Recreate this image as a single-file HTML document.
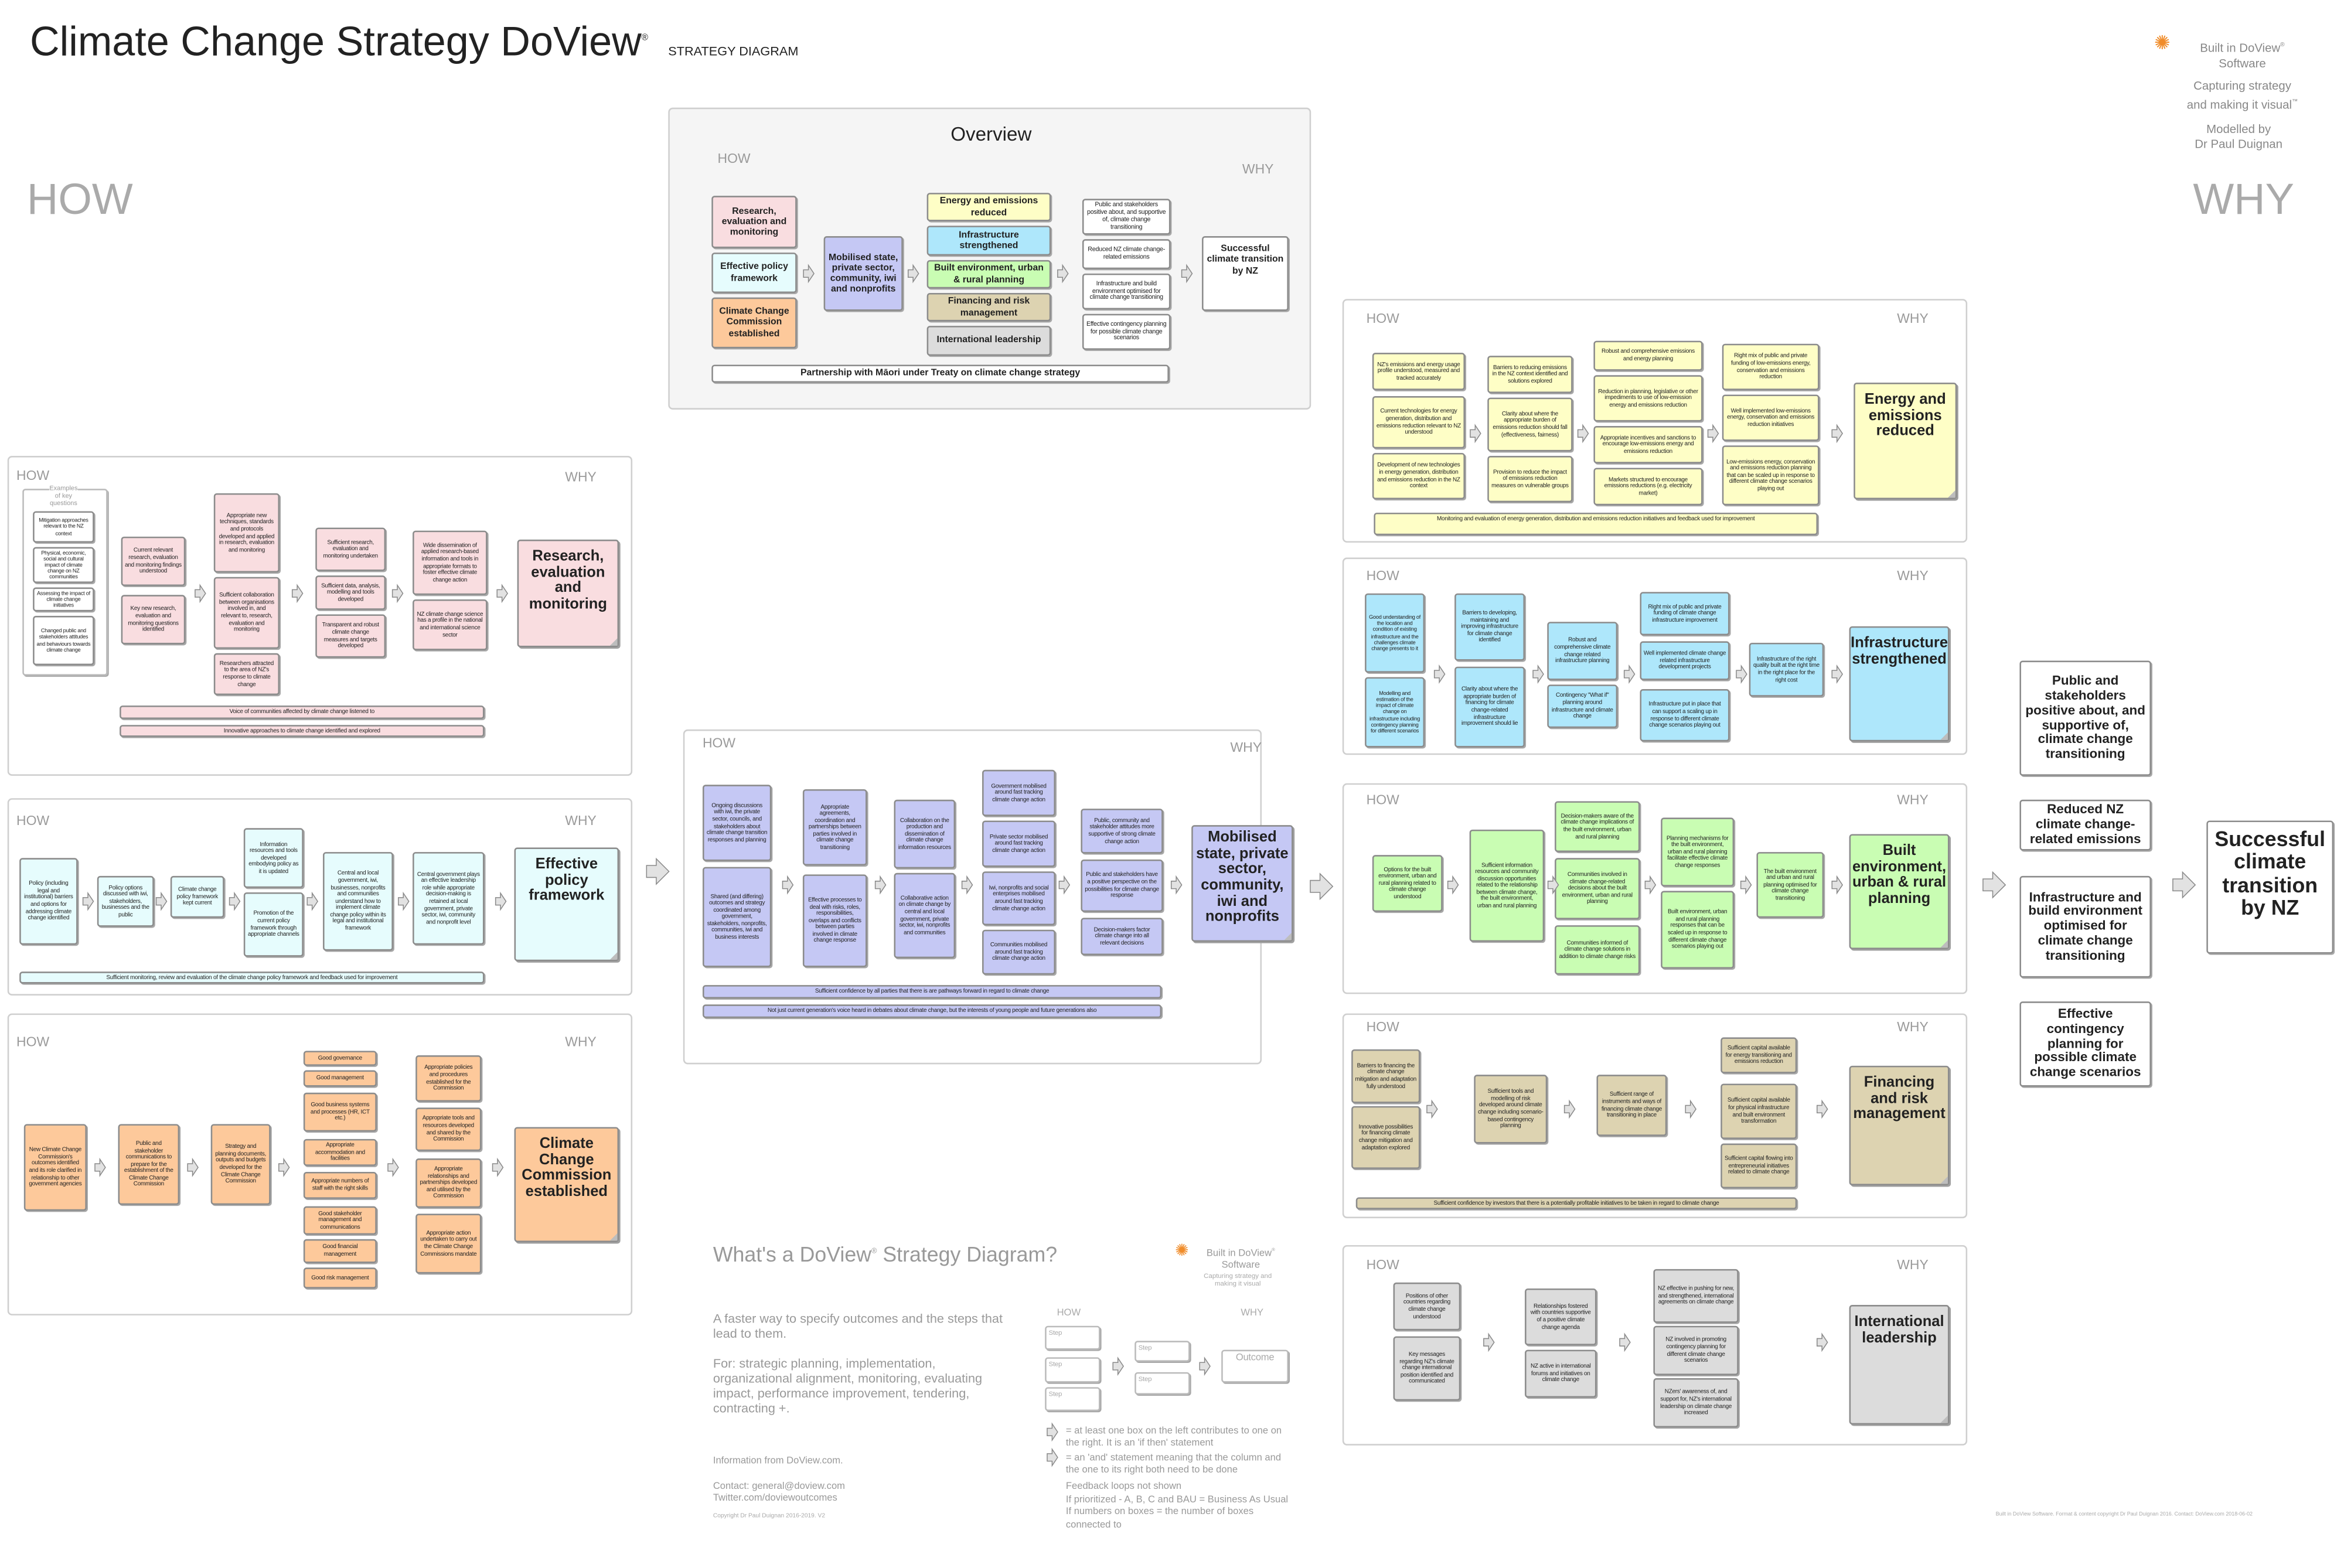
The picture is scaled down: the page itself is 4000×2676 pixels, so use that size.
<!DOCTYPE html>
<html><head><meta charset="utf-8">
<style>
html,body{margin:0;padding:0;background:#fff;width:4000px;height:2675px;overflow:hidden}
#c{position:absolute;left:0;top:0;width:1568px;height:1049px;transform:scale(2.55102);transform-origin:0 0;font-family:"Liberation Sans Narrow","Liberation Sans",sans-serif;color:#222}
.p{position:absolute;box-sizing:border-box;border:1px solid #cfcfcf;border-radius:3px;background:#fff}
.b{position:absolute;box-sizing:border-box;border:0.6px solid #8c8c8c;border-radius:2px;box-shadow:0.8px 0.8px 0 #a8a8a8;display:flex;align-items:center;justify-content:center;text-align:center;font-size:3.9px;letter-spacing:-0.1px;line-height:1.17;padding:1px 1.5px;overflow:hidden}
.t{position:absolute;box-sizing:border-box;border:0.6px solid #8c8c8c;border-radius:2px;box-shadow:1px 1px 0 #a0a0a0;text-align:center;font-weight:bold;font-size:10px;line-height:1.07;padding-top:6px;font-family:"Liberation Sans",sans-serif}
.t:after{content:"";position:absolute;right:0;bottom:0;border-style:solid;border-width:0 0 5px 5px;border-color:transparent transparent #bdbdbd transparent}
.l{position:absolute;font-family:"Liberation Sans",sans-serif;color:#9a9a9a;font-size:9px}
.a{position:absolute;overflow:visible}
.a path{fill:#e2e2e2;stroke:#8a8a8a;stroke-width:0.6}
.pk{background:#f9dde0}.cy{background:#e6fcfd}.or{background:#fdc99b}.bl{background:#c5c8f4}.ye{background:#fefec6}.sk{background:#aee7fb}.gr{background:#c9fdb3}.tn{background:#ddd3b1}.gy{background:#dcdcdc}.wh{background:#fff}
.s{font-family:"Liberation Sans",sans-serif;position:absolute;color:#888}
.ov{font-size:6.2px!important;font-weight:bold;letter-spacing:0!important}
.ow{font-size:4.2px!important}
.rc{font-size:8.8px!important;font-weight:bold;font-family:'Liberation Sans',sans-serif;line-height:1.1!important;letter-spacing:0!important}
</style></head><body><div id="c">

<div style="position:absolute;left:20px;top:12px;font-family:'Liberation Sans',sans-serif;font-size:27.5px;color:#222">Climate Change Strategy DoView<sup style="font-size:6px">®</sup></div>
<div style="position:absolute;left:447px;top:29px;font-family:'Liberation Sans',sans-serif;font-size:8.5px;color:#222">STRATEGY DIAGRAM</div>
<div style="position:absolute;left:18px;top:118px;font-family:'Liberation Sans',sans-serif;font-size:29px;color:#aaa">HOW</div>
<div style="position:absolute;left:1467px;top:118px;font-family:'Liberation Sans',sans-serif;font-size:29px;color:#aaa">WHY</div>
<div style="position:absolute;left:1441px;top:21px;color:#f08c2a;font-size:13px">✺</div>
<div class="s" style="left:1455px;top:25px;width:90px;text-align:center;font-size:8px;line-height:10px">Built in DoView<sup style="font-size:4px">®</sup><br>Software</div>
<div class="s" style="left:1450px;top:53px;width:100px;text-align:center;font-size:8px;line-height:10px">Capturing strategy<br>and making it visual<sup style="font-size:4px">™</sup></div>
<div class="s" style="left:1450px;top:82px;width:95px;text-align:center;font-size:8px;line-height:10px">Modelled by<br>Dr Paul Duignan</div>

<!-- Overview -->
<div class="p" style="left:447px;top:72px;width:430px;height:202px;background:#f5f5f5"></div>
<div style="position:absolute;left:447px;top:82px;width:432px;text-align:center;font-family:'Liberation Sans',sans-serif;font-size:13px">Overview</div>
<div class="l" style="left:480px;top:101px">HOW</div>
<div class="l" style="left:831px;top:108px">WHY</div>
<div class="b pk ov" style="left:476px;top:131px;width:57px;height:35px">Research, evaluation and monitoring</div>
<div class="b cy ov" style="left:476px;top:169px;width:57px;height:27px">Effective policy framework</div>
<div class="b or ov" style="left:476px;top:199px;width:57px;height:34px">Climate Change Commission established</div>
<div class="b bl ov" style="left:551px;top:158px;width:53px;height:50px">Mobilised state, private sector, community, iwi and nonprofits</div>
<div class="b ye ov" style="left:620px;top:129px;width:83px;height:19px">Energy and emissions reduced</div>
<div class="b sk ov" style="left:620px;top:151px;width:83px;height:20px">Infrastructure strengthened</div>
<div class="b gr ov" style="left:620px;top:174px;width:83px;height:19px">Built environment, urban &amp; rural planning</div>
<div class="b tn ov" style="left:620px;top:196px;width:83px;height:19px">Financing and risk management</div>
<div class="b gy ov" style="left:620px;top:218px;width:83px;height:20px">International leadership</div>
<div class="b wh ow" style="left:724px;top:133px;width:59px;height:24px">Public and stakeholders positive about, and supportive of, climate change transitioning</div>
<div class="b wh ow" style="left:724px;top:160px;width:59px;height:20px">Reduced NZ climate change-related emissions</div>
<div class="b wh ow" style="left:724px;top:183px;width:59px;height:24px">Infrastructure and build environment optimised for climate change transitioning</div>
<div class="b wh ow" style="left:724px;top:210px;width:59px;height:24px">Effective contingency planning for possible climate change scenarios</div>
<div class="b wh ov" style="left:804px;top:158px;width:58px;height:50px;align-items:flex-start;padding-top:4px">Successful climate transition by NZ</div>
<div class="b wh ov" style="left:476px;top:244px;width:306px;height:12px">Partnership with Māori under Treaty on climate change strategy</div>

<!-- Research panel -->
<div class="p" style="left:5px;top:305px;width:418px;height:214px"></div>
<div class="l" style="left:11px;top:313px">HOW</div><div class="l" style="left:378px;top:314px">WHY</div>
<div style="position:absolute;left:15px;top:327px;width:55px;height:123px;border:0.6px solid #bbb;border-radius:2px;box-shadow:0.8px 0.8px 0 #aaa"></div>
<div class="s" style="left:15px;top:324px;width:55px;text-align:center;font-size:4.3px;line-height:5.2px;color:#999"><span style="background:#fff">Examples<br>of key<br>questions</span></div>
<div class="b wh" style="left:22px;top:342px;width:41px;height:21px;font-size:3.6px">Mitigation approaches relevant to the NZ context</div>
<div class="b wh" style="left:22px;top:366px;width:41px;height:24px;font-size:3.6px">Physical, economic, social and cultural impact of climate change on NZ communities</div>
<div class="b wh" style="left:22px;top:393px;width:41px;height:16px;font-size:3.6px">Assessing the impact of climate change initiatives</div>
<div class="b wh" style="left:22px;top:412px;width:41px;height:33px;font-size:3.6px">Changed public and stakeholders attitudes and behaviours towards climate change</div>
<div class="b pk" style="left:81px;top:359px;width:43px;height:33px">Current relevant research, evaluation and monitoring findings understood</div>
<div class="b pk" style="left:81px;top:398px;width:43px;height:33px">Key new research, evaluation and monitoring questions identified</div>
<div class="b pk" style="left:143px;top:330px;width:44px;height:53px">Appropriate new techniques, standards and protocols developed and applied in research, evaluation and monitoring</div>
<div class="b pk" style="left:143px;top:386px;width:44px;height:48px">Sufficient collaboration between organisations involved in, and relevant to, research, evaluation and monitoring</div>
<div class="b pk" style="left:143px;top:437px;width:44px;height:28px">Researchers attracted to the area of NZ's response to climate change</div>
<div class="b pk" style="left:211px;top:353px;width:47px;height:29px">Sufficient research, evaluation and monitoring undertaken</div>
<div class="b pk" style="left:211px;top:385px;width:47px;height:23px">Sufficient data, analysis, modelling and tools developed</div>
<div class="b pk" style="left:211px;top:411px;width:47px;height:29px">Transparent and robust climate change measures and targets developed</div>
<div class="b pk" style="left:276px;top:355px;width:50px;height:43px">Wide dissemination of applied research-based information and tools in appropriate formats to foster effective climate change action</div>
<div class="b pk" style="left:276px;top:401px;width:50px;height:34px">NZ climate change science has a profile in the national and international science sector</div>
<div class="t pk" style="left:346px;top:361px;width:68px;height:72px">Research, evaluation and monitoring</div>
<div class="b pk" style="left:80px;top:472px;width:244px;height:9px">Voice of communities affected by climate change listened to</div>
<div class="b pk" style="left:80px;top:485px;width:244px;height:8px">Innovative approaches to climate change identified and explored</div>

<!-- Policy panel -->
<div class="p" style="left:5px;top:534px;width:418px;height:132px"></div>
<div class="l" style="left:11px;top:544px">HOW</div><div class="l" style="left:378px;top:544px">WHY</div>
<div class="b cy" style="left:13px;top:574px;width:39px;height:58px">Policy (including legal and institutional) barriers and options for addressing climate change identified</div>
<div class="b cy" style="left:65px;top:586px;width:38px;height:34px">Policy options discussed with iwi, stakeholders, businesses and the public</div>
<div class="b cy" style="left:114px;top:586px;width:36px;height:28px">Climate change policy framework kept current</div>
<div class="b cy" style="left:163px;top:554px;width:40px;height:40px">Information resources and tools developed embodying policy as it is updated</div>
<div class="b cy" style="left:163px;top:597px;width:40px;height:43px">Promotion of the current policy framework through appropriate channels</div>
<div class="b cy" style="left:216px;top:570px;width:47px;height:66px">Central and local government, iwi, businesses, nonprofits and communities understand how to implement climate change policy within its legal and institutional framework</div>
<div class="b cy" style="left:276px;top:570px;width:48px;height:62px">Central government plays an effective leadership role while appropriate decision-making is retained at local government, private sector, iwi, community and nonprofit level</div>
<div class="t cy" style="left:344px;top:567px;width:70px;height:76px">Effective policy framework</div>
<div class="b cy" style="left:13px;top:650px;width:311px;height:8px">Sufficient monitoring, review and evaluation of the climate change policy framework and feedback used for improvement</div>

<!-- CCC panel -->
<div class="p" style="left:5px;top:678px;width:418px;height:202px"></div>
<div class="l" style="left:11px;top:692px">HOW</div><div class="l" style="left:378px;top:692px">WHY</div>
<div class="b or" style="left:16px;top:752px;width:42px;height:58px">New Climate Change Commission's outcomes identified and its role clarified in relationship to other government agencies</div>
<div class="b or" style="left:79px;top:752px;width:41px;height:54px">Public and stakeholder communications to prepare for the establishment of the Climate Change Commission</div>
<div class="b or" style="left:141px;top:752px;width:40px;height:54px">Strategy and planning documents, outputs and budgets developed for the Climate Change Commission</div>
<div class="b or" style="left:203px;top:703px;width:49px;height:10px">Good governance</div>
<div class="b or" style="left:203px;top:716px;width:49px;height:11px">Good management</div>
<div class="b or" style="left:203px;top:731px;width:49px;height:26px">Good business systems and processes (HR, ICT etc.)</div>
<div class="b or" style="left:203px;top:762px;width:49px;height:18px">Appropriate accommodation and facilities</div>
<div class="b or" style="left:203px;top:784px;width:49px;height:18px">Appropriate numbers of staff with the right skills</div>
<div class="b or" style="left:203px;top:807px;width:49px;height:19px">Good stakeholder management and communications</div>
<div class="b or" style="left:203px;top:829px;width:49px;height:16px">Good financial management</div>
<div class="b or" style="left:203px;top:848px;width:49px;height:14px">Good risk management</div>
<div class="b or" style="left:278px;top:706px;width:44px;height:31px">Appropriate policies and procedures established for the Commission</div>
<div class="b or" style="left:278px;top:741px;width:44px;height:29px">Appropriate tools and resources developed and shared by the Commission</div>
<div class="b or" style="left:278px;top:775px;width:44px;height:33px">Appropriate relationships and partnerships developed and utilised by the Commission</div>
<div class="b or" style="left:278px;top:812px;width:44px;height:40px">Appropriate action undertaken to carry out the Climate Change Commissions mandate</div>
<div class="t or" style="left:344px;top:754px;width:70px;height:77px">Climate Change Commission established</div>

<!-- Mobilised panel -->
<div class="p" style="left:457px;top:488px;width:387px;height:224px"></div>
<div class="l" style="left:470px;top:492px">HOW</div><div class="l" style="left:823px;top:495px">WHY</div>
<div class="b bl" style="left:470px;top:525px;width:46px;height:51px">Ongoing discussions with iwi, the private sector, councils, and stakeholders about climate change transition responses and planning</div>
<div class="b bl" style="left:470px;top:580px;width:46px;height:67px">Shared (and differing) outcomes and strategy coordinated among government, stakeholders, nonprofits, communities, iwi and business interests</div>
<div class="b bl" style="left:537px;top:528px;width:43px;height:51px">Appropriate agreements, coordination and partnerships between parties involved in climate change transitioning</div>
<div class="b bl" style="left:537px;top:585px;width:43px;height:62px">Effective processes to deal with risks, roles, responsibilities, overlaps and conflicts between parties involved in climate change response</div>
<div class="b bl" style="left:598px;top:535px;width:41px;height:46px">Collaboration on the production and dissemination of climate change information resources</div>
<div class="b bl" style="left:598px;top:584px;width:41px;height:57px">Collaborative action on climate change by central and local government, private sector, iwi, nonprofits and communities</div>
<div class="b bl" style="left:657px;top:515px;width:49px;height:31px">Government mobilised around fast tracking climate change action</div>
<div class="b bl" style="left:657px;top:549px;width:49px;height:31px">Private sector mobilised around fast tracking climate change action</div>
<div class="b bl" style="left:657px;top:583px;width:49px;height:36px">Iwi, nonprofits and social enterprises mobilised around fast tracking climate change action</div>
<div class="b bl" style="left:657px;top:622px;width:49px;height:30px">Communities mobilised around fast tracking climate change action</div>
<div class="b bl" style="left:723px;top:541px;width:55px;height:30px">Public, community and stakeholder attitudes more supportive of strong climate change action</div>
<div class="b bl" style="left:723px;top:575px;width:55px;height:35px">Public and stakeholders have a positive perspective on the possibilities for climate change response</div>
<div class="b bl" style="left:723px;top:614px;width:55px;height:25px">Decision-makers factor climate change into all relevant decisions</div>
<div class="t bl" style="left:797px;top:552px;width:68px;height:78px;padding-top:3px">Mobilised state, private sector, community, iwi and nonprofits</div>
<div class="b bl" style="left:470px;top:659px;width:307px;height:9px">Sufficient confidence by all parties that there is are pathways forward in regard to climate change</div>
<div class="b bl" style="left:470px;top:672px;width:307px;height:9px">Not just current generation's voice heard in debates about climate change, but the interests of young people and future generations also</div>

<!-- Energy panel -->
<div class="p" style="left:898px;top:200px;width:418px;height:163px"></div>
<div class="l" style="left:914px;top:208px">HOW</div><div class="l" style="left:1269px;top:208px">WHY</div>
<div class="b ye" style="left:918px;top:236px;width:62px;height:25px">NZ's emissions and energy usage profile understood, measured and tracked accurately</div>
<div class="b ye" style="left:918px;top:265px;width:62px;height:35px">Current technologies for energy generation, distribution and emissions reduction relevant to NZ understood</div>
<div class="b ye" style="left:918px;top:303px;width:62px;height:31px">Development of new technologies in energy generation, distribution and emissions reduction in the NZ context</div>
<div class="b ye" style="left:995px;top:238px;width:57px;height:25px">Barriers to reducing emissions in the NZ context identified and solutions explored</div>
<div class="b ye" style="left:995px;top:266px;width:57px;height:36px">Clarity about where the appropriate burden of emissions reduction should fall (effectiveness, fairness)</div>
<div class="b ye" style="left:995px;top:305px;width:57px;height:31px">Provision to reduce the impact of emissions reduction measures on vulnerable groups</div>
<div class="b ye" style="left:1066px;top:228px;width:73px;height:20px">Robust and comprehensive emissions and energy planning</div>
<div class="b ye" style="left:1066px;top:251px;width:73px;height:31px">Reduction in planning, legislative or other impediments to use of low-emission energy and emissions reduction</div>
<div class="b ye" style="left:1066px;top:285px;width:73px;height:25px">Appropriate incentives and sanctions to encourage low-emissions energy and emissions reduction</div>
<div class="b ye" style="left:1066px;top:313px;width:73px;height:25px">Markets structured to encourage emissions reductions (e.g. electricity market)</div>
<div class="b ye" style="left:1152px;top:230px;width:65px;height:31px">Right mix of public and private funding of low-emissions energy, conservation and emissions reduction</div>
<div class="b ye" style="left:1152px;top:264px;width:65px;height:31px">Well implemented low-emissions energy, conservation and emissions reduction initiatives</div>
<div class="b ye" style="left:1152px;top:298px;width:65px;height:40px">Low-emissions energy, conservation and emissions reduction planning that can be scaled up in response to different climate change scenarios playing out</div>
<div class="t ye" style="left:1240px;top:256px;width:69px;height:78px">Energy and emissions reduced</div>
<div class="b ye" style="left:919px;top:343px;width:297px;height:15px;align-items:flex-start">Monitoring and evaluation of energy generation, distribution and emissions reduction initiatives and feedback used for improvement</div>

<!-- Infrastructure panel -->
<div class="p" style="left:898px;top:373px;width:418px;height:132px"></div>
<div class="l" style="left:914px;top:380px">HOW</div><div class="l" style="left:1269px;top:380px">WHY</div>
<div class="b sk" style="left:913px;top:397px;width:40px;height:53px;font-size:3.6px">Good understanding of the location and condition of existing infrastructure and the challenges climate change presents to it</div>
<div class="b sk" style="left:913px;top:453px;width:40px;height:47px;font-size:3.6px">Modelling and estimation of the impact of climate change on infrastructure including contingency planning for different scenarios</div>
<div class="b sk" style="left:973px;top:397px;width:47px;height:45px">Barriers to developing, maintaining and improving infrastructure for climate change identified</div>
<div class="b sk" style="left:973px;top:446px;width:47px;height:54px">Clarity about where the appropriate burden of financing for climate change-related infrastructure improvement should lie</div>
<div class="b sk" style="left:1035px;top:416px;width:47px;height:39px">Robust and comprehensive climate change related infrastructure planning</div>
<div class="b sk" style="left:1035px;top:458px;width:47px;height:29px">Contingency "What if" planning around infrastructure and climate change</div>
<div class="b sk" style="left:1097px;top:396px;width:60px;height:29px">Right mix of public and private funding of climate change infrastructure improvement</div>
<div class="b sk" style="left:1097px;top:429px;width:60px;height:26px">Well implemented climate change related infrastructure development projects</div>
<div class="b sk" style="left:1097px;top:461px;width:60px;height:35px">Infrastructure put in place that can support a scaling up in response to different climate change scenarios playing out</div>
<div class="b sk" style="left:1170px;top:430px;width:50px;height:36px">Infrastructure of the right quality built at the right time in the right place for the right cost</div>
<div class="t sk" style="left:1237px;top:419px;width:67px;height:77px">Infrastructure strengthened</div>

<!-- Built panel -->
<div class="p" style="left:898px;top:524px;width:418px;height:141px"></div>
<div class="l" style="left:914px;top:530px">HOW</div><div class="l" style="left:1269px;top:530px">WHY</div>
<div class="b gr" style="left:918px;top:572px;width:47px;height:38px">Options for the built environment, urban and rural planning related to climate change understood</div>
<div class="b gr" style="left:983px;top:555px;width:50px;height:75px">Sufficient information resources and community discussion opportunities related to the relationship between climate change, the built environment, urban and rural planning</div>
<div class="b gr" style="left:1040px;top:536px;width:57px;height:34px">Decision-makers aware of the climate change implications of the built environment, urban and rural planning</div>
<div class="b gr" style="left:1040px;top:574px;width:57px;height:41px">Communities involved in climate change-related decisions about the built environment, urban and rural planning</div>
<div class="b gr" style="left:1040px;top:619px;width:57px;height:33px">Communities informed of climate change solutions in addition to climate change risks</div>
<div class="b gr" style="left:1111px;top:547px;width:49px;height:46px">Planning mechanisms for the built environment, urban and rural planning facilitate effective climate change responses</div>
<div class="b gr" style="left:1111px;top:596px;width:49px;height:52px">Built environment, urban and rural planning responses that can be scaled up in response to different climate change scenarios playing out</div>
<div class="b gr" style="left:1175px;top:570px;width:45px;height:44px">The built environment and urban and rural planning optimised for climate change transitioning</div>
<div class="t gr" style="left:1237px;top:558px;width:67px;height:77px">Built environment, urban &amp; rural planning</div>

<!-- Finance panel -->
<div class="p" style="left:898px;top:678px;width:418px;height:137px"></div>
<div class="l" style="left:914px;top:682px">HOW</div><div class="l" style="left:1269px;top:682px">WHY</div>
<div class="b tn" style="left:904px;top:702px;width:46px;height:36px">Barriers to financing the climate change mitigation and adaptation fully understood</div>
<div class="b tn" style="left:904px;top:740px;width:46px;height:42px">Innovative possibilities for financing climate change mitigation and adaptation explored</div>
<div class="b tn" style="left:986px;top:719px;width:49px;height:46px">Sufficient tools and modelling of risk developed around climate change including scenario-based contingency planning</div>
<div class="b tn" style="left:1068px;top:719px;width:47px;height:41px">Sufficient range of instruments and ways of financing climate change transitioning in place</div>
<div class="b tn" style="left:1151px;top:694px;width:51px;height:24px">Sufficient capital available for energy transitioning and emissions reduction</div>
<div class="b tn" style="left:1151px;top:725px;width:51px;height:37px">Sufficient capital available for physical infrastructure and built environment transformation</div>
<div class="b tn" style="left:1151px;top:765px;width:51px;height:30px">Sufficient capital flowing into entrepreneurial initiatives related to climate change</div>
<div class="t tn" style="left:1237px;top:713px;width:67px;height:80px">Financing and risk management</div>
<div class="b tn" style="left:907px;top:801px;width:295px;height:8px">Sufficient confidence by investors that there is a potentially profitable initiatives to be taken in regard to climate change</div>

<!-- International panel -->
<div class="p" style="left:898px;top:833px;width:418px;height:134px"></div>
<div class="l" style="left:914px;top:841px">HOW</div><div class="l" style="left:1269px;top:841px">WHY</div>
<div class="b gy" style="left:932px;top:858px;width:45px;height:32px">Positions of other countries regarding climate change understood</div>
<div class="b gy" style="left:932px;top:894px;width:45px;height:43px">Key messages regarding NZ's climate change international position identified and communicated</div>
<div class="b gy" style="left:1020px;top:862px;width:48px;height:38px">Relationships fostered with countries supportive of a positive climate change agenda</div>
<div class="b gy" style="left:1020px;top:903px;width:48px;height:32px">NZ active in international forums and initiatives on climate change</div>
<div class="b gy" style="left:1106px;top:849px;width:57px;height:36px">NZ effective in pushing for new, and strengthened, international agreements on climate change</div>
<div class="b gy" style="left:1106px;top:887px;width:57px;height:33px">NZ involved in promoting contingency planning for different climate change scenarios</div>
<div class="b gy" style="left:1106px;top:922px;width:57px;height:33px">NZers' awareness of, and support for, NZ's international leadership on climate change increased</div>
<div class="t gy" style="left:1237px;top:873px;width:67px;height:80px">International leadership</div>

<!-- right column -->
<div class="b wh rc" style="left:1351px;top:442px;width:88px;height:77px">Public and stakeholders positive about, and supportive of, climate change transitioning</div>
<div class="b wh rc" style="left:1351px;top:535px;width:88px;height:34px">Reduced NZ climate change-related emissions</div>
<div class="b wh rc" style="left:1351px;top:586px;width:88px;height:68px">Infrastructure and build environment optimised for climate change transitioning</div>
<div class="b wh rc" style="left:1351px;top:670px;width:88px;height:57px">Effective contingency planning for possible climate change scenarios</div>
<div class="b wh" style="left:1476px;top:549px;width:85px;height:89px;font-size:14px;font-weight:bold;font-family:'Liberation Sans',sans-serif;line-height:1.1;letter-spacing:0;align-items:flex-start;padding-top:4px">Successful climate transition by NZ</div>

<!-- bottom info -->
<div class="s" style="left:477px;top:831px;font-size:14px;color:#999">What's a DoView<sup style="font-size:5px">®</sup> Strategy Diagram?</div>
<div style="position:absolute;left:786px;top:830px;color:#f08c2a;font-size:11px">✺</div>
<div class="s" style="left:800px;top:832px;width:60px;text-align:center;font-size:6.5px;line-height:8px;color:#999">Built in DoView<sup style="font-size:3px">®</sup><br>Software</div>
<div class="s" style="left:800px;top:851px;width:56px;text-align:center;font-size:4.5px;line-height:5px;color:#aaa">Capturing strategy and making it visual</div>
<div class="s" style="left:477px;top:877px;width:200px;font-size:8.5px;line-height:10px;color:#999">A faster way to specify outcomes and the steps that lead to them.<br><br>For: strategic planning, implementation, organizational alignment, monitoring, evaluating impact, performance improvement, tendering, contracting +.</div>
<div class="s" style="left:477px;top:974px;font-size:6.5px;color:#999">Information from DoView.com.</div>
<div class="s" style="left:477px;top:991px;font-size:6.5px;line-height:8px;color:#999">Contact: general@doview.com<br>Twitter.com/doviewoutcomes</div>
<div class="s" style="left:477px;top:1011px;font-size:4px;color:#aaa">Copyright Dr Paul Duignan 2016-2019. V2</div>
<div class="s" style="left:707px;top:875px;font-size:6.5px;color:#aaa">HOW</div>
<div class="s" style="left:830px;top:875px;font-size:6.5px;color:#aaa">WHY</div>
<div class="b wh" style="left:699px;top:887px;width:37px;height:16px;font-size:4.5px;color:#aaa;align-items:flex-start;justify-content:flex-start;border-color:#bbb">Step</div>
<div class="b wh" style="left:699px;top:908px;width:37px;height:17px;font-size:4.5px;color:#aaa;align-items:flex-start;justify-content:flex-start;border-color:#bbb">Step</div>
<div class="b wh" style="left:699px;top:928px;width:37px;height:16px;font-size:4.5px;color:#aaa;align-items:flex-start;justify-content:flex-start;border-color:#bbb">Step</div>
<div class="b wh" style="left:759px;top:897px;width:37px;height:14px;font-size:4.5px;color:#aaa;align-items:flex-start;justify-content:flex-start;border-color:#bbb">Step</div>
<div class="b wh" style="left:759px;top:918px;width:37px;height:15px;font-size:4.5px;color:#aaa;align-items:flex-start;justify-content:flex-start;border-color:#bbb">Step</div>
<div class="b wh" style="left:817px;top:903px;width:45px;height:22px;font-size:6.5px;color:#aaa;align-items:flex-start;border-color:#bbb">Outcome</div>
<div class="s" style="left:713px;top:954px;width:150px;font-size:6.5px;line-height:8px;color:#999">= at least one box on the left contributes to one on the right. It is an 'if then' statement</div>
<div class="s" style="left:713px;top:972px;width:150px;font-size:6.5px;line-height:8px;color:#999">= an 'and' statement meaning that the column and the one to its right both need to be done</div>
<div class="s" style="left:713px;top:991px;width:150px;font-size:6.5px;line-height:8.5px;color:#999">Feedback loops not shown<br>If prioritized - A, B, C and BAU = Business As Usual<br>If numbers on boxes = the number of boxes connected to</div>
<div class="s" style="left:1335px;top:1011px;font-size:3.5px;color:#aaa">Built in DoView Software. Format &amp; content copyright Dr Paul Duignan 2016. Contact: DoView.com 2018-06-02</div>

<!-- arrows -->
<svg class="a" width="0" height="0" style="position:absolute"><defs><path id="ar" d="M0.5 3.5H3.8V0.5L7.5 6L3.8 11.5V8.5H0.5Z"/><path id="br" d="M0.5 5H7V0.5L15.5 9L7 17.5V13H0.5Z"/></defs></svg>
<svg class="a" style="left:537px;top:177px" width="8" height="12"><use href="#ar"/></svg>
<svg class="a" style="left:607px;top:177px" width="8" height="12"><use href="#ar"/></svg>
<svg class="a" style="left:707px;top:177px" width="8" height="12"><use href="#ar"/></svg>
<svg class="a" style="left:790px;top:177px" width="8" height="12"><use href="#ar"/></svg>

<svg class="a" style="left:130px;top:391px" width="8" height="12"><use href="#ar"/></svg>
<svg class="a" style="left:195px;top:391px" width="8" height="12"><use href="#ar"/></svg>
<svg class="a" style="left:262px;top:391px" width="8" height="12"><use href="#ar"/></svg>
<svg class="a" style="left:332px;top:391px" width="8" height="12"><use href="#ar"/></svg>

<svg class="a" style="left:55px;top:597px" width="8" height="12"><use href="#ar"/></svg>
<svg class="a" style="left:104px;top:597px" width="8" height="12"><use href="#ar"/></svg>
<svg class="a" style="left:153px;top:597px" width="8" height="12"><use href="#ar"/></svg>
<svg class="a" style="left:205px;top:597px" width="8" height="12"><use href="#ar"/></svg>
<svg class="a" style="left:266px;top:597px" width="8" height="12"><use href="#ar"/></svg>
<svg class="a" style="left:331px;top:597px" width="8" height="12"><use href="#ar"/></svg>

<svg class="a" style="left:63px;top:775px" width="8" height="12"><use href="#ar"/></svg>
<svg class="a" style="left:125px;top:775px" width="8" height="12"><use href="#ar"/></svg>
<svg class="a" style="left:186px;top:775px" width="8" height="12"><use href="#ar"/></svg>
<svg class="a" style="left:259px;top:775px" width="8" height="12"><use href="#ar"/></svg>
<svg class="a" style="left:329px;top:775px" width="8" height="12"><use href="#ar"/></svg>

<svg class="a" style="left:523px;top:586px" width="8" height="12"><use href="#ar"/></svg>
<svg class="a" style="left:585px;top:586px" width="8" height="12"><use href="#ar"/></svg>
<svg class="a" style="left:643px;top:586px" width="8" height="12"><use href="#ar"/></svg>
<svg class="a" style="left:708px;top:586px" width="8" height="12"><use href="#ar"/></svg>
<svg class="a" style="left:783px;top:586px" width="8" height="12"><use href="#ar"/></svg>

<svg class="a" style="left:983px;top:284px" width="8" height="12"><use href="#ar"/></svg>
<svg class="a" style="left:1055px;top:284px" width="8" height="12"><use href="#ar"/></svg>
<svg class="a" style="left:1142px;top:284px" width="8" height="12"><use href="#ar"/></svg>
<svg class="a" style="left:1225px;top:284px" width="8" height="12"><use href="#ar"/></svg>

<svg class="a" style="left:959px;top:445px" width="8" height="12"><use href="#ar"/></svg>
<svg class="a" style="left:1025px;top:445px" width="8" height="12"><use href="#ar"/></svg>
<svg class="a" style="left:1086px;top:445px" width="8" height="12"><use href="#ar"/></svg>
<svg class="a" style="left:1161px;top:445px" width="8" height="12"><use href="#ar"/></svg>
<svg class="a" style="left:1225px;top:445px" width="8" height="12"><use href="#ar"/></svg>

<svg class="a" style="left:968px;top:586px" width="8" height="12"><use href="#ar"/></svg>
<svg class="a" style="left:1035px;top:586px" width="8" height="12"><use href="#ar"/></svg>
<svg class="a" style="left:1100px;top:586px" width="8" height="12"><use href="#ar"/></svg>
<svg class="a" style="left:1164px;top:586px" width="8" height="12"><use href="#ar"/></svg>
<svg class="a" style="left:1225px;top:586px" width="8" height="12"><use href="#ar"/></svg>

<svg class="a" style="left:954px;top:736px" width="8" height="12"><use href="#ar"/></svg>
<svg class="a" style="left:1046px;top:736px" width="8" height="12"><use href="#ar"/></svg>
<svg class="a" style="left:1127px;top:736px" width="8" height="12"><use href="#ar"/></svg>
<svg class="a" style="left:1215px;top:736px" width="8" height="12"><use href="#ar"/></svg>

<svg class="a" style="left:992px;top:892px" width="8" height="12"><use href="#ar"/></svg>
<svg class="a" style="left:1083px;top:892px" width="8" height="12"><use href="#ar"/></svg>
<svg class="a" style="left:1215px;top:892px" width="8" height="12"><use href="#ar"/></svg>

<svg class="a" style="left:744px;top:908px" width="8" height="12"><use href="#ar"/></svg>
<svg class="a" style="left:802px;top:908px" width="8" height="12"><use href="#ar"/></svg>
<svg class="a" style="left:700px;top:952px" width="8" height="12"><use href="#ar"/></svg>
<svg class="a" style="left:700px;top:969px" width="8" height="12"><use href="#ar"/></svg>

<svg class="a" style="left:432px;top:574px" width="16" height="18"><use href="#br"/></svg>
<svg class="a" style="left:876px;top:584px" width="16" height="18"><use href="#br"/></svg>
<svg class="a" style="left:1326px;top:583px" width="16" height="18"><use href="#br"/></svg>
<svg class="a" style="left:1453px;top:583px" width="16" height="18"><use href="#br"/></svg>

</div></body></html>
